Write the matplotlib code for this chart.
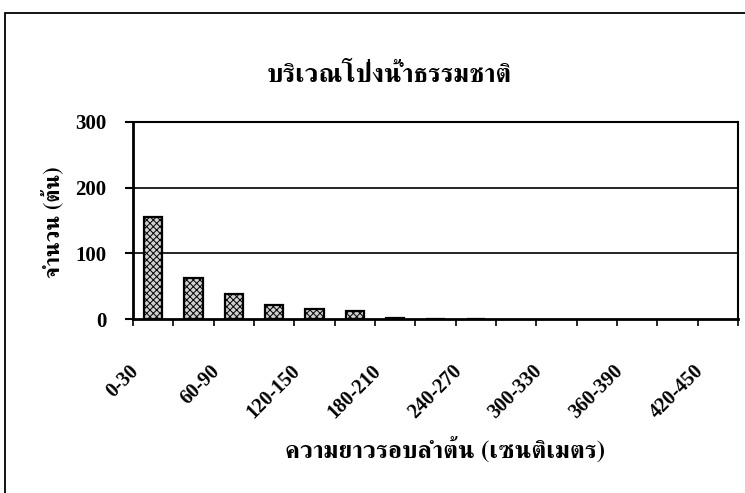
import matplotlib
matplotlib.use("Agg")
import matplotlib.pyplot as plt
from matplotlib.transforms import ScaledTranslation
from matplotlib.patches import Rectangle

# girth classes (cm) and tree counts at the natural salt lick
classes = ["0-30", "30-60", "60-90", "90-120", "120-150", "150-180", "180-210",
           "210-240", "240-270", "270-300", "300-330", "330-360", "360-390",
           "390-420", "420-450"]
counts = [155, 63, 38, 22, 15, 13, 2, 1, 1, 0, 0, 0, 0, 0, 0]
y_ticks = [0, 100, 200, 300]

title = "บริเวณโป่งน้ำธรรมชาติ"
xlabel = "ความยาวรอบลำต้น (เซนติเมตร)"
ylabel = "จำนวน (ต้น)"

thai = ["FreeSerif", "DejaVu Sans"]
num = ["Liberation Serif", "DejaVu Serif"]
plt.rcParams["hatch.linewidth"] = 0.7

fig = plt.figure(figsize=(7.45, 4.93), dpi=100)
ax = fig.add_axes([0.1785, 0.3523, 0.8121, 0.4008])

pos = list(range(len(classes)))
# empty classes get no bar outline
bx = [p for p, c in zip(pos, counts) if c > 0]
by = [c for c in counts if c > 0]
ax.bar(bx, by, width=0.45, facecolor="#d0d0d0", edgecolor="black",
       linewidth=1.6, hatch="xxxxx", zorder=3)

ax.set_xlim(-0.5, len(classes) - 0.5)
ax.set_ylim(0, 300)

# tick marks on the class boundaries, labels on every second class
ax.set_xticks([p + 0.5 for p in pos[:-1]] + [-0.5, len(classes) - 0.5])
ax.set_xticklabels([])
ax.set_xticks(pos[::2], minor=True)
ax.set_xticklabels(classes[::2], minor=True, rotation=45, ha="right",
                   va="center", rotation_mode="anchor",
                   family=num, weight="bold", fontsize=14.5)
ax.tick_params(axis="x", which="major", direction="out", length=5, width=1.2)
ax.tick_params(axis="x", which="minor", length=0, pad=35)
for lab in ax.get_xticklabels(minor=True):
    lab.set_transform(lab.get_transform() +
                      ScaledTranslation(-0.17, 0, fig.dpi_scale_trans))

ax.set_yticks(y_ticks)
ax.set_yticklabels([str(v) for v in y_ticks], family=num, weight="bold",
                   fontsize=15)
ax.tick_params(axis="y", direction="out", length=6, width=1.5, pad=13)

for v in y_ticks[1:-1]:
    ax.axhline(v, color="black", linewidth=1.2, zorder=1)

for side in ["left", "bottom"]:
    ax.spines[side].set_linewidth(2)
for side in ["top", "right"]:
    ax.spines[side].set_linewidth(1.5)
    ax.spines[side].set_linestyle((0, (1, 1)))

fig.text(0.523, 0.848, title, family=thai, weight="bold", fontsize=19,
         ha="center", va="center")
fig.text(0.598, 0.088, xlabel, family=thai, weight="bold", fontsize=18,
         ha="center", va="center")
fig.text(0.070, 0.550, ylabel, family=thai, weight="bold", fontsize=16,
         ha="center", va="center", rotation=90)

# chart frame, running off the right and bottom edges
fig.patches.append(Rectangle((5 / 745, -0.1), 1.2, 0.1 + 1 - 13 / 493,
                             transform=fig.transFigure, fill=False,
                             edgecolor="black", linewidth=1.3))

fig.savefig("out.png", dpi=100)
